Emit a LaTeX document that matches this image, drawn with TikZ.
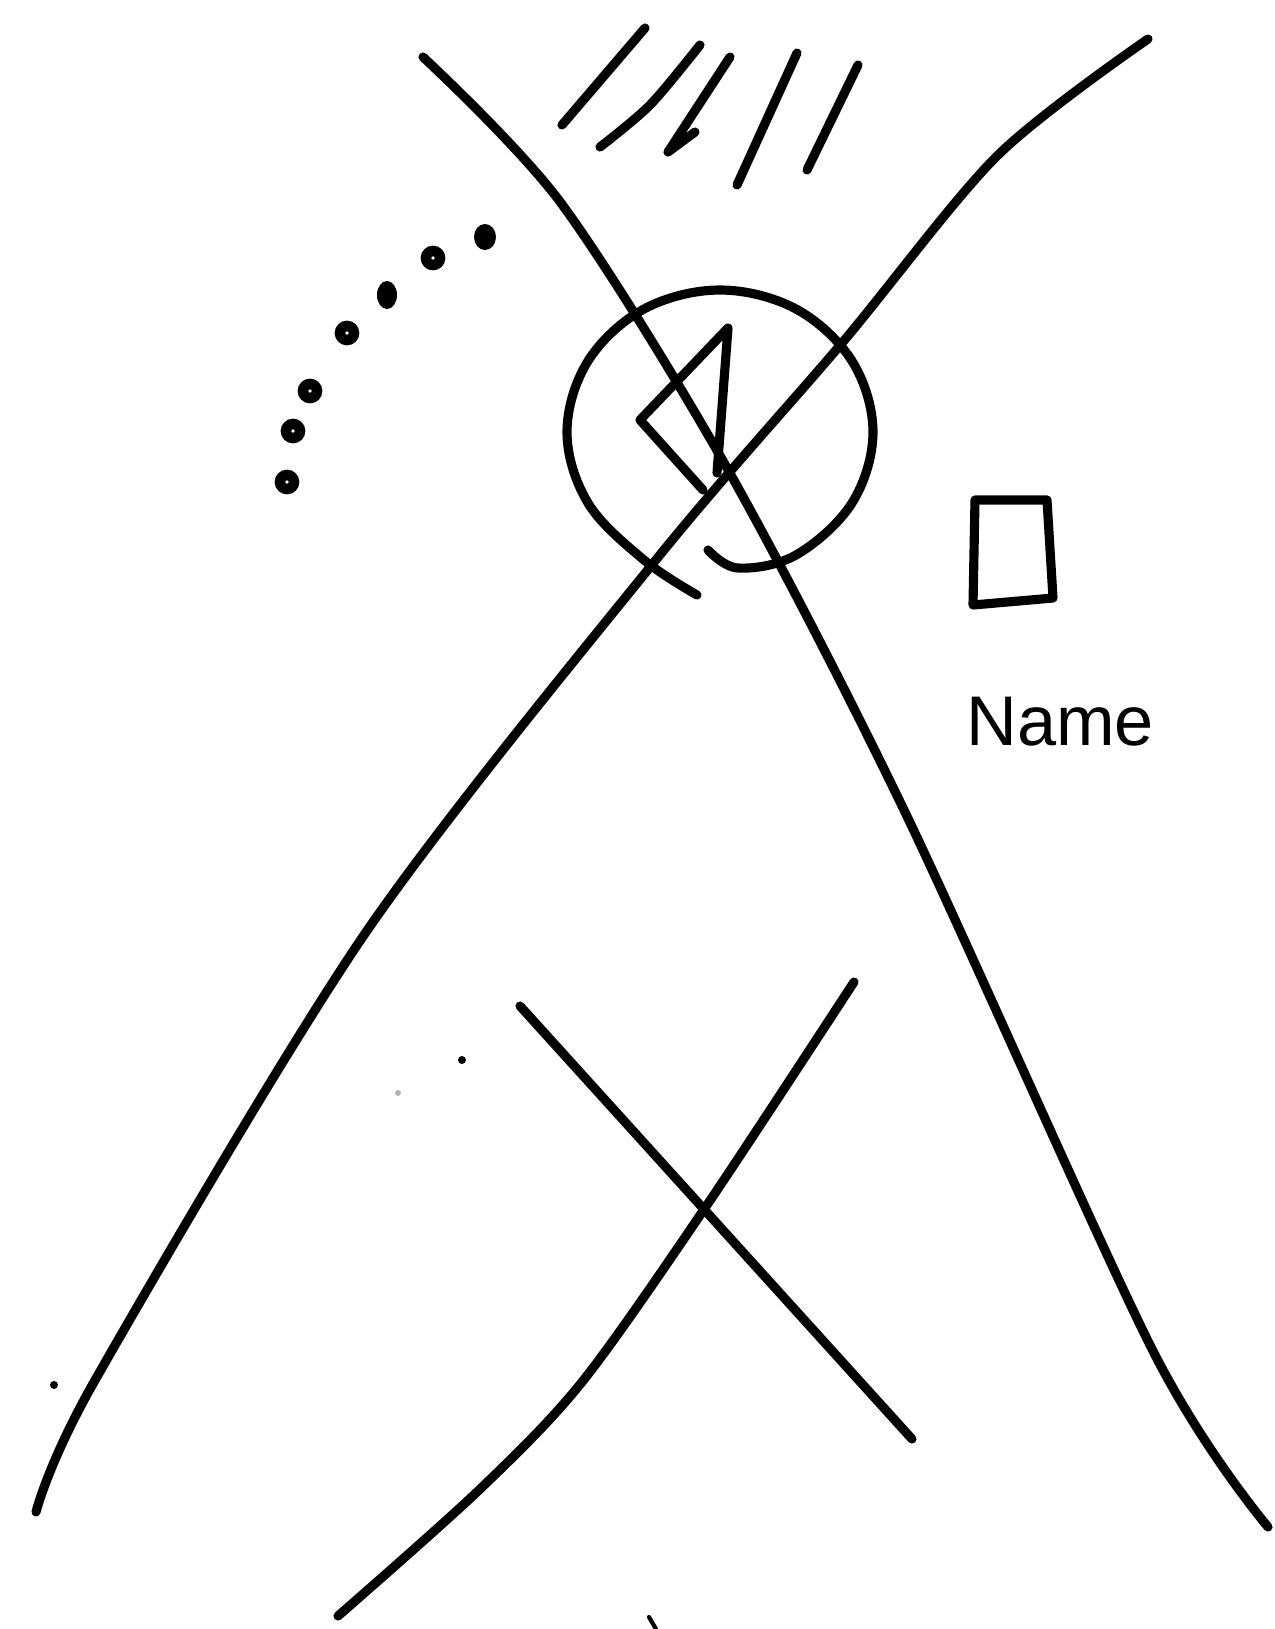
\documentclass[tikz,border=0pt]{standalone}
\usepackage{fontspec}
\setmainfont{Liberation Sans}
\begin{document}
\begin{tikzpicture}[x=0.1mm,y=-0.1mm,
    pen/.style={line width=2.6pt,line cap=round,line join=round},
    bead/.style={line width=3pt}]
    \useasboundingbox (0,0) rectangle (1275,1629);
    \draw[pen] plot[smooth,tension=0.5] coordinates {(423,57) (561,203) (727,468) (904,810) (1153,1351) (1268,1527)};
    \draw[pen] plot[smooth,tension=0.5] coordinates {(1148,39) (997,156) (842,343) (655,561) (364,935) (94,1382) (36,1512)};
    \draw[pen] plot[smooth,tension=0.6] coordinates {(708,550) (738,568) (796,555) (852,503) (873,432) (852,361) (796,309) (720,290) (644,309) (588,361) (567,432) (588,503) (644,560) (697,595)};
    \draw[pen] (703,490) -- (640,420) -- (728,328) -- (717,473);
    \draw[pen] (562,125) -- (645,28);
    \draw[pen] plot[smooth] coordinates {(600,147) (650,105) (700,45)};
    \draw[pen] (730,57) -- (668,152) -- (695,132);
    \draw[pen] (797,53) -- (737,185);
    \draw[pen] (858,65) -- (807,170);
    \foreach \p in {(433,258),(347,333),(310,391),(293,431),(287,482)}
        \draw[bead] \p circle (7);
    \fill (485,237) ellipse (11 and 13);
    \fill (387,295) ellipse (10 and 14);
    \draw[pen] (975,500) -- (1047,500) -- (1053,598) -- (973,605) -- cycle;
    \node[font=\fontsize{20}{24}\selectfont] (name) at (1060,722) {Name};
    \draw[pen] (520,1006) -- (912,1439);
    \draw[pen] plot[smooth,tension=0.5] coordinates {(854,982) (707,1205) (582,1382) (478,1491) (338,1616)};
    \fill (462,1060) circle (4);
    \fill[gray!60] (398,1093) circle (3);
    \fill (54,1385) circle (4);
    \draw[pen,line width=1.2pt] (649,1617) -- (656,1629);
\end{tikzpicture}
\end{document}
